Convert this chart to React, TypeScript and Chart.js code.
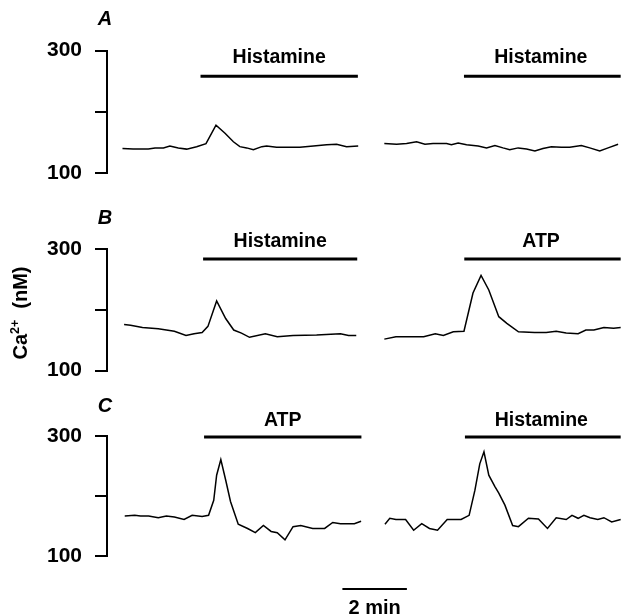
import React, { useEffect, useRef } from 'react';
import { Chart, registerables } from 'chart.js';
Chart.register(...registerables);

const FONT = '"Liberation Sans", Arial, Helvetica, sans-serif';

// ---- data: time (min, from start of each trace) and [Ca2+]i (nM) ----
const A_LEFT_T = [0, 0.33, 0.8, 1.01, 1.27, 1.47, 1.73, 1.99, 2.3, 2.59, 2.9, 3.18, 3.44, 3.64, 3.85, 4.06, 4.32, 4.47, 4.78, 5.09, 5.5, 5.92, 6.33, 6.64, 6.95, 7.31];
const A_LEFT_CA = [140, 139, 139, 141, 141, 144, 141, 139, 143, 148, 178, 165, 151, 143, 141, 138, 143, 144, 142, 142, 142, 144, 146, 147, 143, 144];
const A_RIGHT_T = [0, 0.38, 0.69, 1.0, 1.26, 1.51, 1.93, 2.08, 2.29, 2.55, 2.91, 3.17, 3.43, 3.68, 3.89, 4.15, 4.41, 4.67, 4.92, 5.18, 5.49, 5.75, 6.11, 6.37, 6.68, 6.94, 7.25];
const A_RIGHT_CA = [148, 147, 148, 151, 147, 148, 148, 146, 149, 146, 144, 141, 145, 141, 138, 141, 139, 136, 140, 143, 142, 142, 145, 141, 136, 141, 147];

const B_LEFT_T = [0.05, 0.25, 0.62, 1.11, 1.61, 1.97, 2.22, 2.47, 2.65, 2.92, 3.2, 3.45, 3.69, 3.94, 4.43, 4.8, 5.29, 6.02, 6.76, 7.01, 7.25];
const B_LEFT_CA = [176, 175, 171, 169, 165, 158, 161, 163, 173, 215, 186, 167, 162, 155, 161, 156, 158, 159, 161, 158, 158];
const B_RIGHT_T = [0, 0.36, 1.22, 1.58, 1.83, 2.14, 2.47, 2.75, 3.0, 3.24, 3.55, 3.8, 4.16, 4.66, 5.02, 5.33, 5.64, 6.01, 6.25, 6.5, 6.81, 7.11, 7.33];
const B_RIGHT_CA = [152, 156, 156, 161, 158, 164, 165, 228, 257, 233, 189, 178, 164, 163, 163, 165, 162, 161, 167, 167, 171, 170, 171];

const C_LEFT_T = [0.07, 0.38, 0.56, 0.81, 1.11, 1.36, 1.61, 1.91, 2.16, 2.47, 2.67, 2.83, 2.92, 3.05, 3.2, 3.35, 3.59, 3.88, 4.12, 4.37, 4.61, 4.8, 5.04, 5.29, 5.53, 5.9, 6.27, 6.52, 6.76, 7.19, 7.4];
const C_LEFT_CA = [167, 168, 167, 167, 164, 167, 165, 161, 168, 166, 168, 193, 235, 261, 227, 191, 153, 146, 139, 151, 141, 139, 127, 149, 151, 146, 146, 156, 154, 154, 158];
const C_RIGHT_T = [0.02, 0.17, 0.36, 0.66, 0.91, 1.16, 1.4, 1.65, 1.95, 2.38, 2.63, 2.81, 2.96, 3.09, 3.24, 3.43, 3.55, 3.74, 3.98, 4.16, 4.47, 4.78, 5.06, 5.33, 5.64, 5.82, 6.01, 6.19, 6.38, 6.62, 6.81, 7.05, 7.33];
const C_RIGHT_CA = [153, 163, 161, 161, 143, 154, 146, 143, 161, 161, 168, 210, 254, 274, 235, 216, 205, 185, 151, 149, 163, 162, 146, 164, 161, 168, 163, 168, 164, 161, 164, 157, 161];

// agonist applications (labels, start/end in min from start of each trace)
const PANEL_LETTERS = ['A', 'B', 'C'];
const LEFT_AGONIST = ['Histamine', 'Histamine', 'ATP'];
const RIGHT_AGONIST = ['Histamine', 'ATP', 'Histamine'];
const LEFT_ON = [2.42, 2.5, 2.53];
const LEFT_OFF = [7.3, 7.28, 7.41];
const RIGHT_ON = [2.47, 2.48, 2.5];
const RIGHT_OFF = [7.33, 7.33, 7.33];

const Y_TICKS = [100, 200, 300];
const Y_TICK_LABELS = ['100', '', '300'];
const SCALE_BAR_MIN = 2;
const SCALE_BAR_LABEL = '2 min';

// ---- layout ----
const X_MIN = -0.48;
const X_MAX = 15.46;
const RIGHT_OFFSET = 8.12;
const PANEL_LAYOUT = [
  { top: 0, height: 200, padTop: 50.5, padBottom: 27, barY: 258, labelY: 288 },
  { top: 200, height: 200, padTop: 49.3, padBottom: 29.3, barY: 284, labelY: 312 },
  { top: 380, height: 236, padTop: 56.3, padBottom: 60, barY: 299, labelY: 327 },
];
const LETTER_Y = 350;
const LETTER_X = -0.54;

const pts = (t: number[], v: number[], off = 0) => t.map((ti, i) => ({ x: ti + off, y: v[i] }));

const TRACES = [
  [pts(A_LEFT_T, A_LEFT_CA), pts(A_RIGHT_T, A_RIGHT_CA, RIGHT_OFFSET)],
  [pts(B_LEFT_T, B_LEFT_CA), pts(B_RIGHT_T, B_RIGHT_CA, RIGHT_OFFSET)],
  [pts(C_LEFT_T, C_LEFT_CA), pts(C_RIGHT_T, C_RIGHT_CA, RIGHT_OFFSET)],
];

type TextItem = { text: string; x: number; y: number; size: number; weight?: string; style?: string; ca?: boolean };

const makeTextPlugin = (items: TextItem[]) => ({
  id: 'figText',
  afterDatasetsDraw(chart: any) {
    const { ctx } = chart;
    const xs = chart.scales.x;
    const ys = chart.scales.y;
    ctx.save();
    ctx.fillStyle = '#000';
    for (const it of items) {
      const px = xs.getPixelForValue(it.x);
      const py = ys.getPixelForValue(it.y);
      if (it.ca) {
        const parts = [
          { t: 'Ca', s: it.size, r: 0 },
          { t: '2+', s: it.size * 0.62, r: it.size * 0.42 },
          { t: '  (nM)', s: it.size, r: 0 },
        ];
        let w = 0;
        for (const p of parts) {
          ctx.font = `${it.weight || 'normal'} ${p.s}px ${FONT}`;
          w += ctx.measureText(p.t).width;
        }
        ctx.translate(px, py);
        ctx.rotate(-Math.PI / 2);
        ctx.textAlign = 'left';
        ctx.textBaseline = 'alphabetic';
        let cx = -w / 2;
        for (const p of parts) {
          ctx.font = `${it.weight || 'normal'} ${p.s}px ${FONT}`;
          ctx.fillText(p.t, cx, it.size * 0.36 - p.r);
          cx += ctx.measureText(p.t).width;
        }
        ctx.setTransform(1, 0, 0, 1, 0, 0);
        continue;
      }
      ctx.font = `${it.style || 'normal'} ${it.weight || 'normal'} ${it.size}px ${FONT}`;
      ctx.textAlign = 'center';
      ctx.textBaseline = 'middle';
      ctx.fillText(it.text, px, py);
    }
    ctx.restore();
  },
});

function Panel({ idx }: { idx: number }) {
  const ref = useRef<HTMLCanvasElement>(null);
  const L = PANEL_LAYOUT[idx];
  useEffect(() => {
    if (!ref.current) return;
    const line = (data: any[], width: number) => ({
      type: 'line' as const,
      data,
      borderColor: '#000',
      borderWidth: width,
      pointRadius: 0,
      tension: 0,
      fill: false,
      clip: false as any,
    });
    const datasets: any[] = [
      line(TRACES[idx][0], 1.5),
      line(TRACES[idx][1], 1.5),
      line([{ x: LEFT_ON[idx], y: L.barY }, { x: LEFT_OFF[idx], y: L.barY }], 3),
      line([{ x: RIGHT_ON[idx] + RIGHT_OFFSET, y: L.barY }, { x: RIGHT_OFF[idx] + RIGHT_OFFSET, y: L.barY }], 3),
    ];
    const items: TextItem[] = [
      { text: PANEL_LETTERS[idx], x: LETTER_X, y: LETTER_Y, size: 20, weight: 'bold', style: 'italic' },
      { text: LEFT_AGONIST[idx], x: (LEFT_ON[idx] + LEFT_OFF[idx]) / 2, y: L.labelY, size: 19.5, weight: 'bold' },
      { text: RIGHT_AGONIST[idx], x: (RIGHT_ON[idx] + RIGHT_OFFSET + X_MAX) / 2 - 0.05, y: L.labelY, size: 19.5, weight: 'bold' },
    ];
    if (idx === 1) {
      items.push({ text: 'Ca2+ (nM)', x: -3.18, y: 195, size: 20, weight: 'bold', ca: true });
    }
    if (idx === 2) {
      const s0 = 6.82;
      datasets.push(line([{ x: s0, y: 45 }, { x: s0 + SCALE_BAR_MIN, y: 45 }], 2));
      items.push({ text: SCALE_BAR_LABEL, x: s0 + SCALE_BAR_MIN / 2, y: 13, size: 20, weight: 'bold' });
    }
    const chart = new Chart(ref.current, {
      type: 'line',
      data: { datasets },
      options: {
        animation: false,
        responsive: false,
        events: [],
        layout: { padding: { top: L.padTop, bottom: L.padBottom, left: 0, right: 0 } },
        plugins: { legend: { display: false }, tooltip: { enabled: false } },
        scales: {
          x: { type: 'linear', display: false, min: X_MIN, max: X_MAX },
          y: {
            type: 'linear',
            min: 100,
            max: 300,
            afterBuildTicks: (s: any) => { s.ticks = Y_TICKS.map((v) => ({ value: v })); },
            afterFit: (s: any) => { s.width = 107; },
            ticks: {
              color: '#000',
              padding: 13,
              font: { family: FONT, size: 21, weight: 'bold' },
              callback: (v: any) => Y_TICK_LABELS[Y_TICKS.indexOf(Number(v))] ?? '',
            },
            grid: { display: true, drawOnChartArea: false, drawTicks: true, tickLength: 12, lineWidth: 2, color: '#000' },
            border: { display: true, width: 2, color: '#000' },
          },
        },
      },
      plugins: [makeTextPlugin(items)],
    });
    return () => chart.destroy();
  }, [idx]);
  return (
    <canvas
      ref={ref}
      width={621}
      height={L.height}
      style={{ position: 'absolute', left: 0, top: L.top, width: 621, height: L.height }}
    />
  );
}

export default function App() {
  return (
    <div style={{ position: 'fixed', left: 0, top: 0, width: 621, height: 616, background: '#fff', overflow: 'hidden' }}>
      <Panel idx={0} />
      <Panel idx={1} />
      <Panel idx={2} />
    </div>
  );
}
